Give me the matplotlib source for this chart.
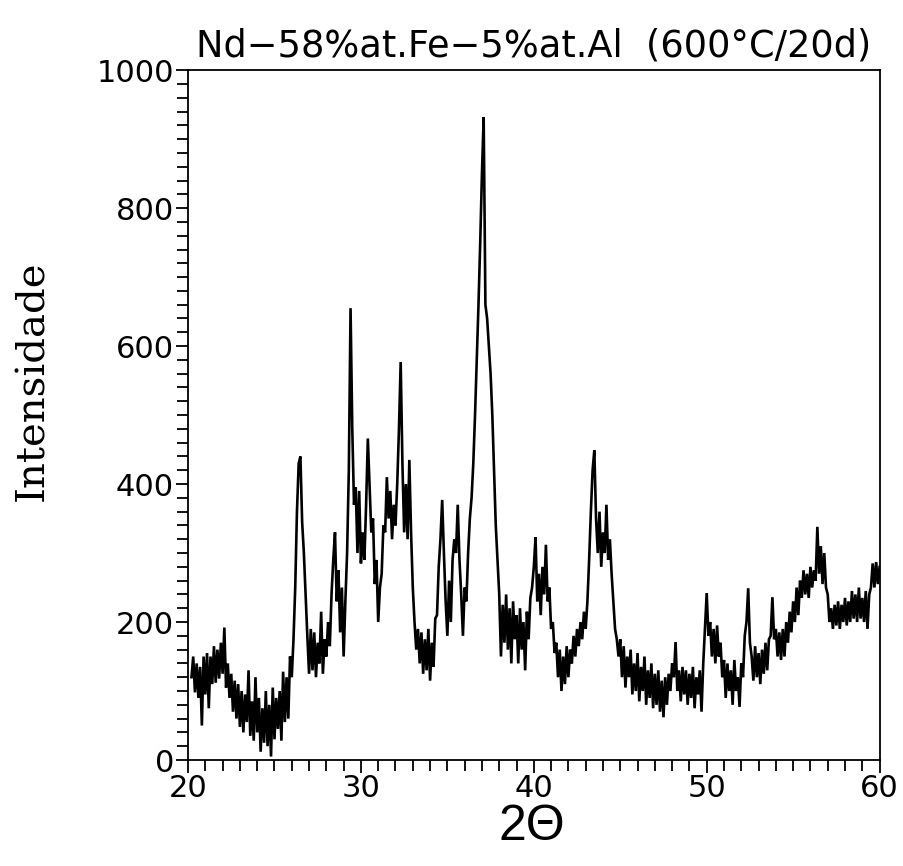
import numpy as np
import matplotlib
matplotlib.use("Agg")
import matplotlib.pyplot as plt
from matplotlib.ticker import MultipleLocator

# difratograma, passo de 0.1 grau a partir de 20.2
start_2theta = 20.2
step_2theta = 0.1

# 20.2 .. 29.9
int_20_30 = [120, 150, 98, 140, 90, 135, 50, 150,
             95, 155, 75, 150, 110, 165, 112, 160, 118, 170,
             125, 192, 105, 140, 90, 125, 70, 115, 60, 110,
             48, 100, 40, 95, 55, 130, 35, 85, 28, 120,
             40, 90, 12, 75, 25, 100, 20, 80, 5, 105,
             30, 90, 45, 100, 28, 128, 55, 120, 60, 150,
             120, 175, 250, 360, 430, 440, 345, 300, 240, 180,
             125, 190, 130, 185, 120, 170, 140, 215, 125, 175,
             150, 200, 165, 240, 290, 330, 230, 275, 185, 250,
             150, 230, 300, 420, 655, 480, 370, 395, 300, 390]
# 30.0 .. 39.9
int_30_40 = [285, 330, 290, 370, 466, 400, 330, 350, 255, 290,
             200, 250, 270, 340, 330, 410, 350, 390, 320, 370,
             340, 400, 480, 577, 430, 330, 400, 320, 435, 330,
             250, 200, 160, 190, 140, 185, 125, 175, 130, 190,
             115, 170, 135, 205, 210, 280, 320, 377, 300, 230,
             180, 260, 200, 290, 320, 300, 370, 290, 240, 180,
             250, 230, 300, 350, 380, 430, 500, 580, 660, 750,
             850, 932, 660, 640, 600, 560, 500, 420, 340, 290,
             240, 150, 225, 170, 240, 160, 220, 140, 230, 175,
             210, 140, 220, 160, 200, 130, 215, 175, 235, 250]
# 40.0 .. 49.9
int_40_50 = [280, 323, 230, 270, 210, 280, 240, 312, 230, 250,
             190, 200, 155, 170, 120, 160, 100, 150, 110, 165,
             120, 160, 140, 180, 150, 190, 165, 200, 175, 215,
             190, 230, 290, 360, 420, 449, 350, 300, 360, 280,
             330, 300, 370, 290, 320, 270, 230, 190, 175, 150,
             175, 120, 165, 105, 150, 120, 160, 95, 140, 100,
             155, 85, 135, 100, 150, 80, 130, 90, 140, 75,
             125, 80, 130, 70, 115, 62, 120, 80, 125, 100,
             140, 120, 171, 100, 130, 85, 135, 95, 130, 80,
             125, 90, 135, 75, 120, 95, 130, 70, 140, 190]
# 50.0 .. 60.0
int_50_60 = [242, 180, 200, 150, 190, 140, 195, 150, 170, 120,
             145, 90, 140, 100, 130, 80, 145, 100, 120, 77,
             140, 120, 180, 200, 249, 170, 150, 115, 165, 120,
             155, 110, 160, 125, 170, 130, 175, 180, 236, 175,
             190, 150, 185, 145, 190, 150, 200, 170, 215, 185,
             230, 200, 250, 210, 260, 235, 275, 240, 270, 235,
             280, 250, 275, 260, 338, 270, 310, 255, 300, 250,
             240, 200, 220, 190, 225, 195, 230, 190, 225, 200,
             235, 195, 230, 200, 245, 205, 240, 200, 250, 205,
             235, 200, 245, 190, 240, 250, 285, 250, 287, 255,
             280]

intensidade = np.array(int_20_30 + int_30_40 + int_40_50 + int_50_60, dtype=float)
two_theta = np.round(start_2theta + step_2theta * np.arange(len(intensidade)), 1)

fig = plt.figure(figsize=(9.04, 8.66), dpi=100)
ax = fig.add_axes([0.208, 0.1224, 0.765, 0.7966])

ax.plot(two_theta, intensidade, color="black", lw=1.9, solid_joinstyle="miter")

ax.set_xlim(20, 60)
ax.set_ylim(0, 1000)
ax.xaxis.set_major_locator(MultipleLocator(10))
ax.xaxis.set_minor_locator(MultipleLocator(1))
ax.yaxis.set_major_locator(MultipleLocator(200))
ax.yaxis.set_minor_locator(MultipleLocator(20))
ax.tick_params(which="both", direction="out", top=False, right=False,
               width=1.3, labelsize=22, pad=1)
ax.tick_params(which="major", length=9)
ax.tick_params(which="minor", length=8)
for s in ax.spines.values():
    s.set_linewidth(1.3)

ax.set_title("Nd\u221258%at.Fe\u22125%at.Al  (600\u00b0C/20d)", fontsize=26.5,
             fontweight="medium", pad=10)
ax.set_ylabel("Intensidade", family="DejaVu Serif", fontsize=29)
ax.yaxis.set_label_coords(-0.198, 0.55)
# rotulo do eixo x posto a mao, logo abaixo dos numeros
fig.text(0.588, 0.045, "2\u0398", fontsize=36, family="Liberation Sans",
         fontweight="light", ha="center", va="center")

fig.savefig("out.png", dpi=100)
